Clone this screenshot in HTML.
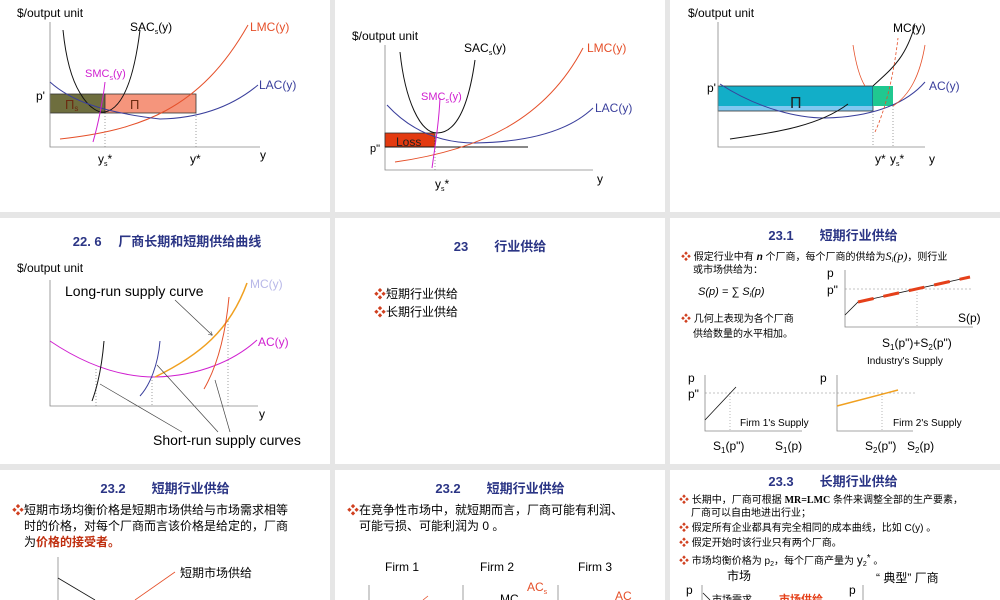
<!DOCTYPE html>
<html><head><meta charset="utf-8"><style>
body{margin:0;width:1000px;height:600px;overflow:hidden;background:#e6e6e6}
svg{display:block}
text{font-family:"Liberation Sans","Noto Sans CJK SC",sans-serif}
.cn{font-family:"Liberation Serif","Noto Serif CJK SC","Noto Sans CJK SC",serif}
.t{font-weight:bold;fill:#2b3585;font-size:13px}
</style></head><body>
<svg width="1000" height="600" viewBox="0 0 1000 600">
<defs><marker id="ar" markerWidth="6" markerHeight="6" refX="5" refY="3" orient="auto"><path d="M0,0 L6,3 L0,6" fill="none" stroke="#444" stroke-width="0.8"/></marker></defs>
<!-- slide backgrounds -->
<rect x="0" y="0" width="330" height="212" fill="#fff"/>
<rect x="335" y="0" width="330" height="212" fill="#fff"/>
<rect x="670" y="0" width="330" height="212" fill="#fff"/>
<rect x="0" y="218" width="330" height="246" fill="#fff"/>
<rect x="335" y="218" width="330" height="246" fill="#fff"/>
<rect x="670" y="218" width="330" height="246" fill="#fff"/>
<rect x="0" y="470" width="330" height="130" fill="#fff"/>
<rect x="335" y="470" width="330" height="130" fill="#fff"/>
<rect x="670" y="470" width="330" height="130" fill="#fff"/>

<!-- Slide 1 -->
<g font-size="12">
<rect x="50" y="94" width="55" height="19" fill="#6e6e3e" stroke="#333" stroke-width="0.8"/>
<rect x="105" y="94" width="91" height="19" fill="#f5957c" stroke="#333" stroke-width="0.8"/>
<path d="M50,22 V147 H260" fill="none" stroke="#888" stroke-width="0.8"/>
<path d="M105,113 V147 M196,113 V147" stroke="#888" stroke-dasharray="1,2" stroke-width="0.8"/>
<path d="M63,30 C66,60 72,80 80,93 C90,110 100,113 105,112 C125,108 135,70 140,30" fill="none" stroke="#111" stroke-width="1"/>
<path d="M60,139 C140,130 200,110 248,25" fill="none" stroke="#e5502a" stroke-width="1"/>
<path d="M50,82 C70,100 100,112 160,119 C210,118 240,100 258,85" fill="none" stroke="#3a3f9c" stroke-width="1"/>
<path d="M93,142 C98,125 103,100 105,82" fill="none" stroke="#d020d0" stroke-width="1"/>
<text x="17" y="17">$/output unit</text>
<text x="130" y="31">SAC<tspan font-size="7" dy="3">s</tspan><tspan dy="-3">(y)</tspan></text>
<text x="250" y="31" fill="#e5502a">LMC(y)</text>
<text x="85" y="77" fill="#d020d0" font-size="11">SMC<tspan font-size="7" dy="3">s</tspan><tspan dy="-3">(y)</tspan></text>
<text x="259" y="89" fill="#3a3f9c">LAC(y)</text>
<text x="36" y="100">p'</text>
<text x="65" y="109" fill="#6b2a10" font-family="Liberation Serif" font-size="13">Π<tspan font-size="8" dy="2">s</tspan></text>
<text x="130" y="109" fill="#6b2a10" font-family="Liberation Serif" font-size="13">Π</text>
<text x="98" y="163">y<tspan font-size="7" dy="3">s</tspan><tspan dy="-3">*</tspan></text>
<text x="190" y="163">y*</text>
<text x="260" y="159">y</text>
</g>

<!-- Slide 2 -->
<g font-size="12">
<path d="M385,45 V170 H593" fill="none" stroke="#888" stroke-width="0.8"/>
<rect x="385" y="133" width="50" height="14" fill="#e33a10" stroke="#333" stroke-width="0.8"/>
<path d="M385,147 H528" stroke="#111" stroke-width="1"/>
<path d="M435,133 V170" stroke="#888" stroke-dasharray="1,2" stroke-width="0.8"/>
<path d="M400,52 C405,100 420,133 437,133 C455,133 468,110 475,60" fill="none" stroke="#111" stroke-width="1"/>
<path d="M387,105 C410,130 440,143 475,143 C530,142 570,130 593,108" fill="none" stroke="#3a3f9c" stroke-width="1"/>
<path d="M395,162 C480,150 545,120 583,48" fill="none" stroke="#e5502a" stroke-width="1"/>
<path d="M432,168 C436,140 439,120 440,98" fill="none" stroke="#d020d0" stroke-width="1"/>
<text x="352" y="40">$/output unit</text>
<text x="464" y="52">SAC<tspan font-size="7" dy="3">s</tspan><tspan dy="-3">(y)</tspan></text>
<text x="587" y="52" fill="#e5502a">LMC(y)</text>
<text x="421" y="100" fill="#d020d0" font-size="11">SMC<tspan font-size="7" dy="3">s</tspan><tspan dy="-3">(y)</tspan></text>
<text x="595" y="112" fill="#3a3f9c">LAC(y)</text>
<text x="370" y="152" font-size="11">p"</text>
<text x="396" y="146" fill="#222">Loss</text>
<text x="435" y="188">y<tspan font-size="7" dy="3">s</tspan><tspan dy="-3">*</tspan></text>
<text x="597" y="183">y</text>
</g>

<!-- Slide 3 -->
<g font-size="12">
<rect x="718" y="86" width="155" height="20" fill="#12aec8"/>
<rect x="718" y="106" width="155" height="5" fill="#80c8f0"/>
<rect x="718" y="86" width="155" height="25" fill="none" stroke="#333" stroke-width="0.8"/>
<rect x="873" y="86" width="20" height="20" fill="#20c890"/>
<path d="M718,22 V147 H925" fill="none" stroke="#888" stroke-width="0.8"/>
<path d="M873,111 V147 M893,106 V147" stroke="#888" stroke-dasharray="1,2" stroke-width="0.8"/>
<path d="M720,84 C760,110 800,118 825,118 C870,117 905,105 925,82" fill="none" stroke="#3a3f9c" stroke-width="1"/>
<path d="M730,139 C780,132 820,125 848,104" fill="none" stroke="#111" stroke-width="1"/>
<path d="M873,86 C890,70 905,60 915,25" fill="none" stroke="#111" stroke-width="1"/>
<path d="M853,45 C856,65 860,78 865,86" fill="none" stroke="#e5502a" stroke-width="0.8"/>
<path d="M875,132 C885,110 893,80 898,38" fill="none" stroke="#e5502a" stroke-width="0.8" stroke-dasharray="3,2"/>
<path d="M893,106 C910,95 920,75 925,45" fill="none" stroke="#e5502a" stroke-width="0.8"/>
<text x="688" y="17">$/output unit</text>
<text x="893" y="32">MC(y)</text>
<text x="929" y="90" fill="#3a3f9c">AC(y)</text>
<text x="707" y="92">p'</text>
<text x="790" y="108" font-family="Liberation Serif" font-size="16" fill="#222">Π</text>
<text x="875" y="163">y*</text>
<text x="890" y="163">y<tspan font-size="7" dy="3">s</tspan><tspan dy="-3">*</tspan></text>
<text x="929" y="163">y</text>
</g>

<!-- Slide 4 -->
<g font-size="12">
<text x="167" y="246" text-anchor="middle" class="t">22. 6　 厂商长期和短期供给曲线</text>
<path d="M50,280 V406 H258" fill="none" stroke="#888" stroke-width="0.8"/>
<path d="M96,369 V406 M152,377 V406 M228,321 V406" stroke="#888" stroke-dasharray="1,2" stroke-width="0.8"/>
<path d="M50,341 C90,368 125,377 155,377 C200,376 235,360 257,340" fill="none" stroke="#d020d0" stroke-width="1"/>
<path d="M155,377 C200,355 230,330 247,283" fill="none" stroke="#f0a020" stroke-width="1.5"/>
<path d="M92,401 C98,385 102,365 104,341" fill="none" stroke="#111" stroke-width="1"/>
<path d="M140,396 C150,385 158,365 160,341" fill="none" stroke="#3a3f9c" stroke-width="1"/>
<path d="M204,389 C215,370 225,340 229,297" fill="none" stroke="#e5502a" stroke-width="1"/>
<path d="M175,300 L212,335" stroke="#444" stroke-width="0.7" marker-end="url(#ar)"/>
<path d="M182,432 L100,384 M218,432 L157,365 M230,432 L215,380" stroke="#444" stroke-width="0.7"/>
<text x="17" y="272">$/output unit</text>
<text x="65" y="296" font-size="14">Long-run supply curve</text>
<text x="250" y="288" fill="#b8b8e8">MC(y)</text>
<text x="258" y="346" fill="#d020d0">AC(y)</text>
<text x="259" y="418">y</text>
<text x="153" y="445" font-size="14">Short-run supply curves</text>
</g>

<!-- Slide 5 -->
<g>
<text x="500" y="251" text-anchor="middle" class="t">23　　行业供给</text>
<text x="374" y="298" font-size="12"><tspan fill="#d04020">❖</tspan>短期行业供给</text>
<text x="374" y="316" font-size="12"><tspan fill="#d04020">❖</tspan>长期行业供给</text>
</g>

<!-- Slide 6 -->
<g font-size="10">
<text x="833" y="240" text-anchor="middle" class="t">23.1　　短期行业供给</text>
<text x="681" y="260" font-size="10"><tspan fill="#d04020">❖</tspan> 假定行业中有 <tspan font-style="italic" font-weight="bold">n</tspan> 个厂商，每个厂商的供给为<tspan font-family="Liberation Serif" font-size="12" font-style="italic">S<tspan font-size="7" dy="2">i</tspan><tspan dy="-2">(p)</tspan></tspan>，则行业</text>
<text x="693" y="273">或市场供给为：</text>
<text x="698" y="295" font-family="Liberation Serif" font-style="italic" font-size="11">S(p) = ∑ S<tspan font-size="7" dy="2">i</tspan><tspan dy="-2">(p)</tspan></text>
<text x="681" y="322"><tspan fill="#d04020">❖</tspan> 几何上表现为各个厂商</text>
<text x="693" y="337">供给数量的水平相加。</text>
<path d="M845,270 V327 H973" fill="none" stroke="#888" stroke-width="0.8"/>
<path d="M845,289 H973" stroke="#888" stroke-dasharray="2,2" stroke-width="0.6"/>
<path d="M917,289 V327" stroke="#888" stroke-dasharray="1,2" stroke-width="0.6"/>
<path d="M845,315 L858,302 L970,277" fill="none" stroke="#111" stroke-width="0.8"/>
<path d="M858,302 L970,277" fill="none" stroke="#e5401a" stroke-width="3" stroke-dasharray="16,10"/>
<text x="827" y="277" font-size="12">p</text>
<text x="827" y="294" font-size="12">p"</text>
<text x="958" y="322" font-size="12">S(p)</text>
<text x="882" y="347" font-size="12">S<tspan font-size="8" dy="3">1</tspan><tspan dy="-3">(p")+S</tspan><tspan font-size="8" dy="3">2</tspan><tspan dy="-3">(p")</tspan></text>
<text x="867" y="364">Industry's Supply</text>
<path d="M705,375 V431 H802 M837,375 V431 H913" fill="none" stroke="#888" stroke-width="0.8"/>
<path d="M705,393 H915" stroke="#888" stroke-dasharray="2,2" stroke-width="0.6"/>
<path d="M730,393 V431 M882,393 V431" stroke="#888" stroke-dasharray="1,2" stroke-width="0.6"/>
<path d="M705,420 L736,387" stroke="#111" stroke-width="0.8"/>
<path d="M837,406 L898,390" stroke="#f0a020" stroke-width="1.5"/>
<text x="688" y="382" font-size="12">p</text>
<text x="688" y="398" font-size="12">p"</text>
<text x="820" y="382" font-size="12">p</text>
<text x="740" y="426">Firm 1's Supply</text>
<text x="893" y="426">Firm 2's Supply</text>
<text x="713" y="450" font-size="12">S<tspan font-size="8" dy="3">1</tspan><tspan dy="-3">(p")</tspan></text>
<text x="775" y="450" font-size="12">S<tspan font-size="8" dy="3">1</tspan><tspan dy="-3">(p)</tspan></text>
<text x="865" y="450" font-size="12">S<tspan font-size="8" dy="3">2</tspan><tspan dy="-3">(p")</tspan></text>
<text x="907" y="450" font-size="12">S<tspan font-size="8" dy="3">2</tspan><tspan dy="-3">(p)</tspan></text>
</g>

<!-- Slide 7 -->
<g font-size="12">
<text x="165" y="493" text-anchor="middle" class="t">23.2　　短期行业供给</text>
<text x="12" y="514"><tspan fill="#d04020">❖</tspan>短期市场均衡价格是短期市场供给与市场需求相等</text>
<text x="24" y="530">时的价格，对每个厂商而言该价格是给定的，厂商</text>
<text x="24" y="546">为<tspan fill="#c03010" font-weight="bold">价格的接受者。</tspan></text>
<path d="M58,557 V600" stroke="#888" stroke-width="0.8"/>
<path d="M58,578 L95,600" stroke="#111" stroke-width="0.8"/>
<path d="M175,572 L135,600" stroke="#e5502a" stroke-width="0.8"/>
<text x="180" y="577">短期市场供给</text>
</g>

<!-- Slide 8 -->
<g font-size="12">
<text x="500" y="493" text-anchor="middle" class="t">23.2　　短期行业供给</text>
<text x="347" y="514"><tspan fill="#d04020">❖</tspan>在竞争性市场中，就短期而言，厂商可能有利润、</text>
<text x="359" y="530">可能亏损、可能利润为 0 。</text>
<text x="385" y="571">Firm 1</text>
<text x="480" y="571">Firm 2</text>
<text x="578" y="571">Firm 3</text>
<path d="M369,585 V600 M463,585 V600 M558,585 V600" stroke="#888" stroke-width="0.8"/>
<text x="527" y="591" fill="#e5502a">AC<tspan font-size="7" dy="3">s</tspan></text>
<text x="500" y="603">MC</text>
<text x="615" y="600" fill="#e5502a">AC</text>
<path d="M423,600 L428,596" stroke="#e5502a" stroke-width="0.8"/>
</g>

<!-- Slide 9 -->
<g font-size="10">
<text x="833" y="486" text-anchor="middle" class="t">23.3　　长期行业供给</text>
<text x="679" y="503"><tspan fill="#d04020">❖</tspan> 长期中，厂商可根据 <tspan font-weight="bold" font-family="Liberation Serif">MR=LMC</tspan> 条件来调整全部的生产要素，</text>
<text x="691" y="516">厂商可以自由地进出行业；</text>
<text x="679" y="531"><tspan fill="#d04020">❖</tspan> 假定所有企业都具有完全相同的成本曲线，比如 C(y) 。</text>
<text x="679" y="546"><tspan fill="#d04020">❖</tspan> 假定开始时该行业只有两个厂商。</text>
<text x="679" y="564"><tspan fill="#d04020">❖</tspan> 市场均衡价格为 p<tspan font-size="7" dy="2">2</tspan><tspan dy="-2">，每个厂商产量为 </tspan><tspan font-size="12">y</tspan><tspan font-size="7" dy="2">2</tspan><tspan dy="-5">*</tspan><tspan dy="3"> 。</tspan></text>
<text x="727" y="580" font-size="12">市场</text>
<text x="876" y="582" font-size="12">“ 典型” 厂商</text>
<text x="686" y="594" font-size="12">p</text>
<text x="849" y="594" font-size="12">p</text>
<path d="M702,585 V600 M863,585 V600" stroke="#888" stroke-width="0.8"/>
<path d="M703,593 L710,600" stroke="#111" stroke-width="0.8"/>
<text x="712" y="603">市场需求</text>
<text x="779" y="603" fill="#e5401a" font-weight="bold" font-size="11">市场供给</text>
</g>
</svg>
</body></html>
